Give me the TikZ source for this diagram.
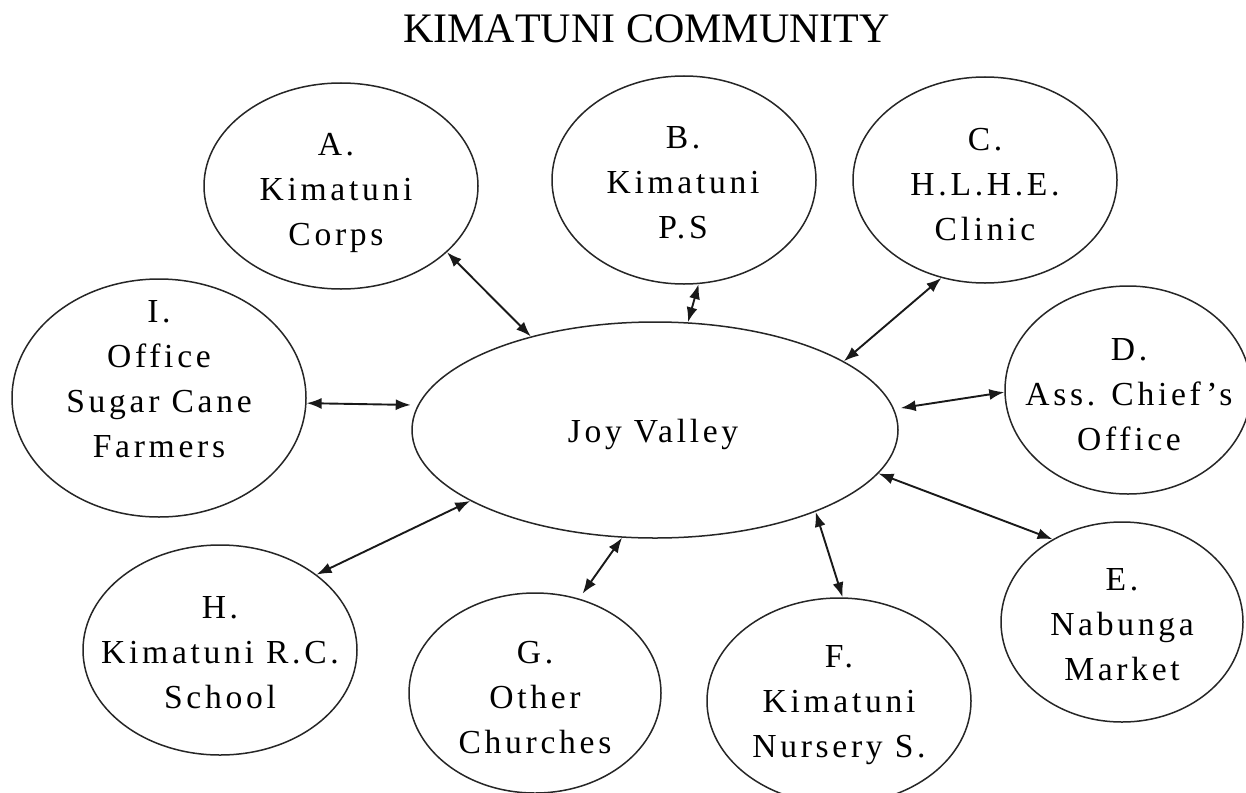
\documentclass[tikz,border=0pt]{standalone}
\usepackage{fontspec}
\setmainfont{Liberation Serif}
\newfontfamily\nodefont[LetterSpace=11]{Liberation Serif}
\newfontfamily\titlefont[Kerning=Off]{Liberation Serif}
\usetikzlibrary{arrows.meta,shapes.geometric}
\begin{document}
\begin{tikzpicture}[x=0.5pt,y=-0.5pt,
  ell/.style={draw=black!85, line width=0.75pt, ellipse, inner sep=0pt},
  lbl/.style={font=\nodefont\fontsize{16.8}{22.5}\selectfont, align=center, anchor=north, inner sep=0pt, text=black},
  link/.style={line width=0.95pt, draw=black!90, {Latex[length=7.5pt,width=5.5pt]}-{Latex[length=7.5pt,width=5.5pt]}}]
\useasboundingbox (0,0) rectangle (1246,792);
\clip (0,0) rectangle (1246,792);
\fill[white] (0,0) rectangle (1246,792);
% title
\node[font=\titlefont\fontsize{21}{25}\selectfont, anchor=base, inner sep=0pt] (title) at (646.5,43) {KIMATUNI COMMUNITY};
% ellipses
\node[ell, minimum width=137pt, minimum height=103pt] (A) at (341,186) {};
\node[ell, minimum width=132pt, minimum height=104pt] (B) at (684,180) {};
\node[ell, minimum width=132pt, minimum height=103pt] (C) at (985,180) {};
\node[ell, minimum width=147pt, minimum height=119pt] (I) at (159,398) {};
\node[ell, minimum width=243pt, minimum height=108pt] (JV) at (655,430) {};
\node[ell, minimum width=123pt, minimum height=104pt] (D) at (1128,390) {};
\node[ell, minimum width=121pt, minimum height=100pt] (E) at (1122,622) {};
\node[ell, minimum width=132pt, minimum height=103pt] (F) at (839,701) {};
\node[ell, minimum width=126pt, minimum height=100pt] (G) at (535,693) {};
\node[ell, minimum width=137pt, minimum height=105pt] (H) at (220,650) {};
% labels
\node[lbl] (tA) at (336,133) {A.\\Kimatuni\\Corps};
\node[lbl] (tB) at (683,126) {B.\\Kimatuni\\P.S};
\node[lbl] (tC) at (985,128) {C.\\H.L.H.E.\\Clinic};
\node[lbl] (tI) at (159,300) {I.\\Office\\Sugar Cane\\Farmers};
\node[lbl] (tD) at (1129,338) {D.\\Ass. Chief’s\\Office};
\node[lbl] (tE) at (1122,568) {E.\\Nabunga\\Market};
\node[lbl] (tF) at (839,645) {F.\\Kimatuni\\Nursery S.};
\node[lbl] (tG) at (535,641) {G.\\Other\\Churches};
\node[lbl] (tH) at (220,596) {H.\\Kimatuni R.C.\\School};
\node[lbl, anchor=base] (tJV) at (653,442) {Joy Valley};
% connectors
\draw[link] (A.-32.7) -- (JV.143.8);
\draw[link] (B.-82.9) -- (JV.73.2);
\draw[link] (C.-114.9) -- (JV.20.4);
\draw[link, shorten >=3.5pt] (I.-2.7) -- (JV.174.2);
\draw[link, shorten <=3.3pt] (JV.5.4) -- (D.-179.1);
\draw[link] (JV.-11.5) -- (E.130.8);
\draw[link] (JV.-27.6) -- (F.88.4);
\draw[link, shorten >=3pt] (JV.-107.65) -- (G.65.8);
\draw[link] (JV.-159.55) -- (H.38.1);
\end{tikzpicture}
\end{document}
